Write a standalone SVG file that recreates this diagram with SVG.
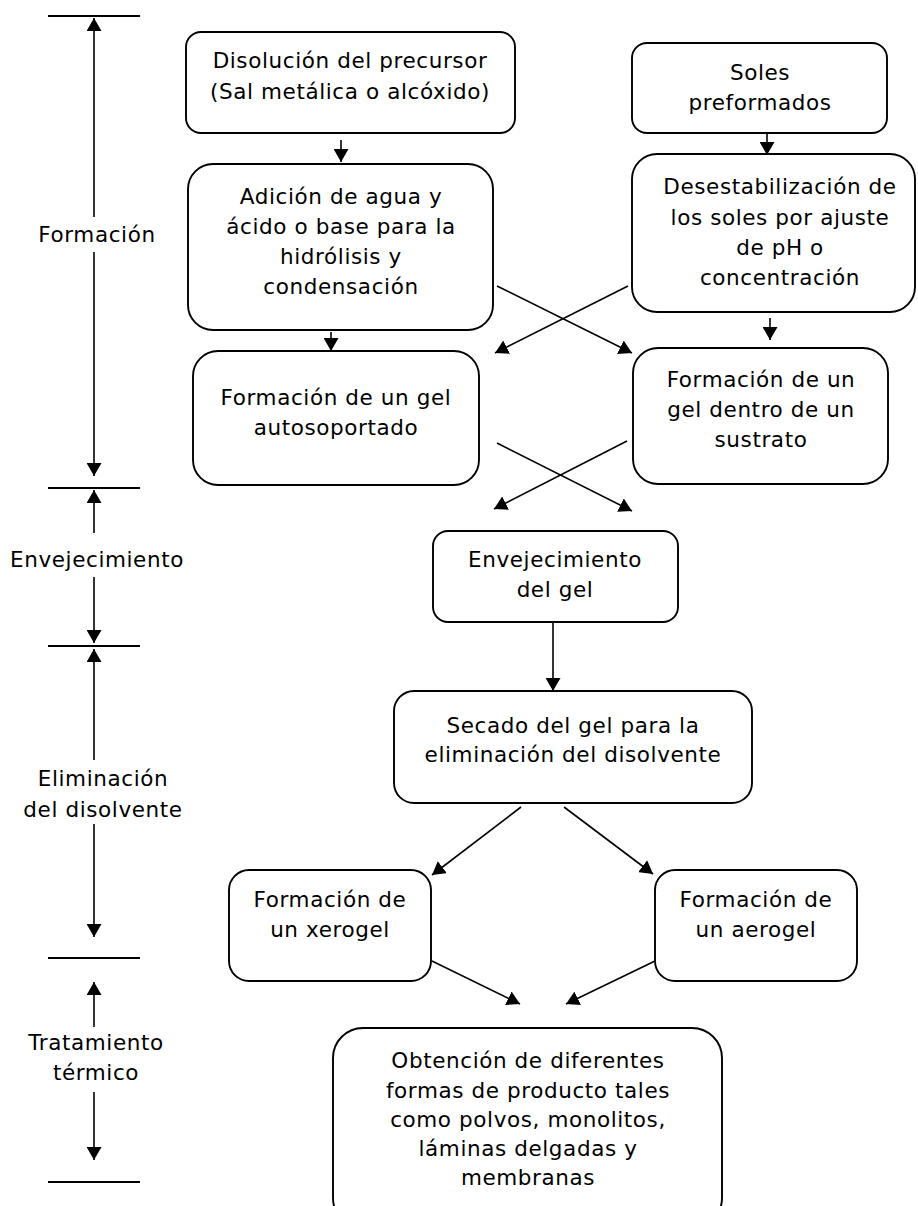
<svg xmlns="http://www.w3.org/2000/svg" width="918" height="1206" viewBox="0 0 918 1206">
<style>
.box{fill:#fff;stroke:#000;stroke-width:1.9}
.t{font-family:"DejaVu Sans","Liberation Sans",sans-serif;font-size:21.5px;letter-spacing:0.6px;fill:#000;text-anchor:middle}
.c{stroke:#000;stroke-width:1.6;fill:none}
.bar{stroke:#000;stroke-width:2}
</style>
<defs>
<marker id="ah" markerUnits="userSpaceOnUse" markerWidth="14" markerHeight="15" refX="13" refY="7.5" orient="auto">
<path d="M0,0 L13,7.5 L0,15 Z" fill="#000"/>
</marker>
</defs>
<g id="timeline">
<line class="bar" x1="48" y1="16" x2="140" y2="16"/>
<line class="bar" x1="48" y1="488" x2="140" y2="488"/>
<line class="bar" x1="48" y1="646" x2="140" y2="646"/>
<line class="bar" x1="48" y1="958" x2="140" y2="958"/>
<line class="bar" x1="48" y1="1182" x2="140" y2="1182"/>
<line class="c" x1="94" y1="217" x2="94" y2="18" marker-end="url(#ah)"/>
<line class="c" x1="94" y1="252" x2="94" y2="476" marker-end="url(#ah)"/>
<line class="c" x1="94" y1="533" x2="94" y2="490" marker-end="url(#ah)"/>
<line class="c" x1="94" y1="577" x2="94" y2="643" marker-end="url(#ah)"/>
<line class="c" x1="94" y1="760" x2="94" y2="649" marker-end="url(#ah)"/>
<line class="c" x1="94" y1="824" x2="94" y2="937" marker-end="url(#ah)"/>
<line class="c" x1="94" y1="1027" x2="94" y2="982" marker-end="url(#ah)"/>
<line class="c" x1="94" y1="1092" x2="94" y2="1160" marker-end="url(#ah)"/>
<text class="t" x="97" y="242">Formación</text>
<text class="t" x="97" y="567">Envejecimiento</text>
<text class="t" x="103" y="786">Eliminación</text>
<text class="t" x="103" y="817">del disolvente</text>
<text class="t" x="96" y="1050">Tratamiento</text>
<text class="t" x="96" y="1080">térmico</text>
</g>
<g id="connectors">
<line class="c" x1="341" y1="140" x2="341" y2="162" marker-end="url(#ah)"/>
<line class="c" x1="331" y1="332" x2="331" y2="351" marker-end="url(#ah)"/>
<line class="c" x1="767" y1="133" x2="767" y2="155" marker-end="url(#ah)"/>
<line class="c" x1="770" y1="318" x2="770" y2="340" marker-end="url(#ah)"/>
<line class="c" x1="497" y1="286" x2="632" y2="353" marker-end="url(#ah)"/>
<line class="c" x1="628" y1="286" x2="495" y2="353" marker-end="url(#ah)"/>
<line class="c" x1="497" y1="443" x2="632" y2="511" marker-end="url(#ah)"/>
<line class="c" x1="627" y1="441" x2="494" y2="509" marker-end="url(#ah)"/>
<line class="c" x1="553" y1="622" x2="553" y2="691" marker-end="url(#ah)"/>
<line class="c" x1="521" y1="807" x2="432" y2="875" marker-end="url(#ah)"/>
<line class="c" x1="564" y1="807" x2="653" y2="874" marker-end="url(#ah)"/>
<line class="c" x1="432" y1="961" x2="520" y2="1004" marker-end="url(#ah)"/>
<line class="c" x1="655" y1="961" x2="566" y2="1004" marker-end="url(#ah)"/>
</g>
<g id="n1">
<rect class="box" x="186" y="32" width="329" height="101" rx="15"/>
<text class="t" x="350" y="68">Disolución del precursor</text>
<text class="t" x="350" y="99">(Sal metálica o alcóxido)</text>
</g>
<g id="n2">
<rect class="box" x="188" y="164" width="305" height="166" rx="25"/>
<text class="t" x="341" y="204">Adición de agua y</text>
<text class="t" x="341" y="234">ácido o base para la</text>
<text class="t" x="341" y="264">hidrólisis y</text>
<text class="t" x="341" y="294">condensación</text>
</g>
<g id="n3">
<rect class="box" x="632" y="43" width="255" height="90" rx="15"/>
<text class="t" x="760" y="80">Soles</text>
<text class="t" x="760" y="110">preformados</text>
</g>
<g id="n4">
<rect class="box" x="632" y="154" width="283" height="158" rx="25"/>
<text class="t" x="780" y="194">Desestabilización de</text>
<text class="t" x="780" y="225">los soles por ajuste</text>
<text class="t" x="780" y="255">de pH o</text>
<text class="t" x="780" y="285">concentración</text>
</g>
<g id="n5">
<rect class="box" x="193" y="351" width="286" height="134" rx="25"/>
<text class="t" x="336" y="405">Formación de un gel</text>
<text class="t" x="336" y="435">autosoportado</text>
</g>
<g id="n6">
<rect class="box" x="633" y="348" width="255" height="136" rx="25"/>
<text class="t" x="761" y="387">Formación de un</text>
<text class="t" x="761" y="417">gel dentro de un</text>
<text class="t" x="761" y="447">sustrato</text>
</g>
<g id="n7">
<rect class="box" x="433" y="531" width="245" height="91" rx="15"/>
<text class="t" x="555" y="567">Envejecimiento</text>
<text class="t" x="555" y="597">del gel</text>
</g>
<g id="n8">
<rect class="box" x="394" y="691" width="358" height="112" rx="20"/>
<text class="t" x="573" y="733">Secado del gel para la</text>
<text class="t" x="573" y="762">eliminación del disolvente</text>
</g>
<g id="n9">
<rect class="box" x="229" y="870" width="202" height="111" rx="20"/>
<text class="t" x="330" y="907">Formación de</text>
<text class="t" x="330" y="937">un xerogel</text>
</g>
<g id="n10">
<rect class="box" x="655" y="870" width="202" height="111" rx="20"/>
<text class="t" x="756" y="907">Formación de</text>
<text class="t" x="756" y="937">un aerogel</text>
</g>
<g id="n11">
<rect class="box" x="333" y="1028" width="389" height="200" rx="30"/>
<text class="t" x="528" y="1068">Obtención de diferentes</text>
<text class="t" x="528" y="1098">formas de producto tales</text>
<text class="t" x="528" y="1127">como polvos, monolitos,</text>
<text class="t" x="528" y="1156">láminas delgadas y</text>
<text class="t" x="528" y="1185">membranas</text>
</g>
</svg>
